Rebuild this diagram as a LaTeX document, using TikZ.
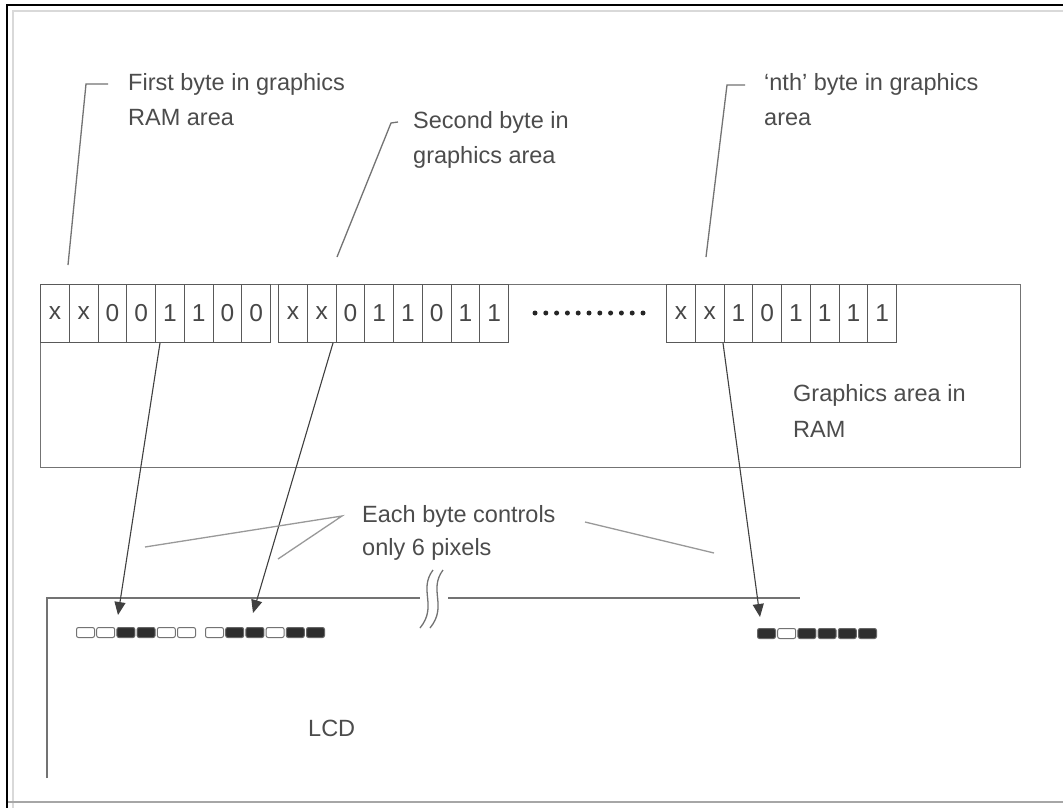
\documentclass[tikz,border=0pt]{standalone}
\usepackage{fontspec}
\setmainfont{Liberation Sans}
\usetikzlibrary{arrows.meta}
\begin{document}
\begin{tikzpicture}[x=1pt,y=-1pt,
  ln/.style={draw=black!55, line width=1.3pt},
  lnl/.style={draw=black!40, line width=1.3pt},
  cell/.style={draw=black!65, line width=1pt, minimum width=28.75pt, minimum height=58pt, inner sep=0pt, anchor=north west, text=black!72, font=\fontsize{24.5}{28}\selectfont},
  lbl/.style={anchor=base west, inner sep=0pt, text=black!70, font=\fontsize{23.5}{28}\selectfont},
  px1/.style={draw=black!60, fill=black!82, rounded corners=2pt, line width=1pt, minimum width=18pt, minimum height=10pt, inner sep=0pt, anchor=north west},
  px0/.style={draw=black!55, fill=white, rounded corners=2pt, line width=1pt, minimum width=18pt, minimum height=10pt, inner sep=0pt, anchor=north west},
  arr/.style={draw=black!75, line width=1.1pt, -{Triangle[length=13pt,width=11pt]}},
  dot/.style={circle, fill=black!85, inner sep=0pt, minimum size=5pt}
]
\useasboundingbox[fill=white] (0,0) rectangle (1063,808);
% outer frame
\draw[black!15, line width=1.5pt] (13,808) -- (13,11) -- (1063,11);
\draw[black!35, line width=1.5pt] (7,802) -- (1063,802);
\draw[black, line width=2pt] (7,808) -- (7,5) -- (1063,5);

% RAM area
\node[draw=black!55, line width=1.2pt, minimum width=980pt, minimum height=183pt, inner sep=0pt, anchor=north west] (ram) at (40,284) {};
\node[lbl] (ramA) at (793,401) {Graphics area in};
\node[lbl] (ramB) at (793,437) {RAM};

% bytes
\foreach \v [count=\i from 0] in {x,x,0,0,1,1,0,0}
  \node[cell] (a\i) at ({40+\i*28.75},284) {\v};
\foreach \v [count=\i from 0] in {x,x,0,1,1,0,1,1}
  \node[cell] (b\i) at ({278+\i*28.75},284) {\v};
\foreach \v [count=\i from 0] in {x,x,1,0,1,1,1,1}
  \node[cell] (c\i) at ({666+\i*28.75},284) {\v};
\foreach \i in {0,...,10}
  \node[dot] (d\i) at ({535+\i*10.8},313) {};

% labels
\node[lbl] (t1a) at (128,90) {First byte in graphics};
\node[lbl] (t1b) at (128,125) {RAM area};
\node[lbl] (t2a) at (413,128) {Second byte in};
\node[lbl] (t2b) at (413,163) {graphics area};
\node[lbl] (t3a) at (764,90) {`nth' byte in graphics};
\node[lbl] (t3b) at (764,125) {area};
\coordinate (l1b) at (68,265);
\coordinate (l1c) at (86,84);
\coordinate (l1e) at (108,84);
\coordinate (l2b) at (337,257);
\coordinate (l2c) at (391,123);
\coordinate (l2e) at (398,122);
\coordinate (l3b) at (706,257);
\coordinate (l3c) at (727,85);
\coordinate (l3e) at (745,85);
\draw[ln] (l1b) -- (l1c) -- (l1e);
\draw[ln] (l2b) -- (l2c) -- (l2e);
\draw[ln] (l3b) -- (l3c) -- (l3e);

% LCD
\coordinate (lcdbl) at (47,778);
\coordinate (lcdtl) at (47,598);
\coordinate (brk1) at (420,598);
\coordinate (brk2) at (448,598);
\coordinate (lcdtr) at (800,598);
\draw[ln] (lcdbl) -- (lcdtl) -- (brk1);
\draw[ln] (brk2) -- (lcdtr);
\draw[ln] (433,570) .. controls (418,590) and (438,606) .. (420,628);
\draw[ln] (443,570) .. controls (428,590) and (448,606) .. (430,628);
\node[lbl] (lcd) at (308,736) {LCD};

% pixels
\foreach \s [count=\i from 0] in {0,0,1,1,0,0}
  \node[px\s] (p\i) at ({76+\i*20.2},627) {};
\foreach \s [count=\i from 0] in {0,1,1,0,1,1}
  \node[px\s] (q\i) at ({205+\i*20.2},627) {};
\foreach \s [count=\i from 0] in {1,0,1,1,1,1}
  \node[px\s] (r\i) at ({757+\i*20.2},628) {};

% arrows
\coordinate (a1s) at (160,343);
\coordinate (a1e) at (118,615);
\coordinate (a2s) at (333,343);
\coordinate (a2e) at (253,613);
\coordinate (a3s) at (723,343);
\coordinate (a3e) at (760,617);
\draw[arr] (a1s) -- (a1e);
\draw[arr] (a2s) -- (a2e);
\draw[arr] (a3s) -- (a3e);

% each byte label
\node[lbl] (e1) at (362,522) {Each byte controls};
\node[lbl] (e2) at (362,555) {only 6 pixels};
\coordinate (ea) at (342,516);
\coordinate (eA) at (145,547);
\coordinate (eB) at (278,559);
\coordinate (eC) at (585,522);
\coordinate (eD) at (714,553);
\draw[lnl] (eA) -- (ea) -- (eB);
\draw[lnl] (eC) -- (eD);
\end{tikzpicture}
\end{document}
